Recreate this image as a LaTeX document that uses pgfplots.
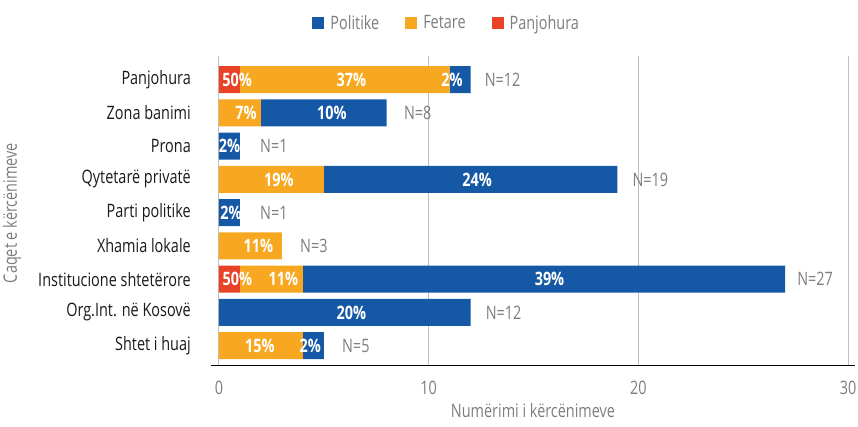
\documentclass[border=0pt]{standalone}
\usepackage{fontspec}
\setmainfont{Open Sans}[FakeStretch=0.78]
\usepackage{pgfplots}
\pgfplotsset{compat=1.18}
\usepackage{pgfplotstable}

\definecolor{pol}{RGB}{21,88,166}
\definecolor{fet}{RGB}{247,168,32}
\definecolor{panj}{RGB}{232,66,39}
\definecolor{txtgray}{RGB}{125,125,125}
\definecolor{gridgray}{RGB}{191,191,191}

\newcommand\chartfont{\fontsize{18.5}{22}\selectfont}

% y = category index (0 = Panjohura, top), val = count, lab = label, dx = nudge of the label
\pgfplotstableread{
y val lab dx
0 1 50\% 7.7
1 0 {} 0
2 0 {} 0
3 0 {} 0
4 0 {} 0
5 0 {} 0
6 1 50\% 8
7 0 {} 0
8 0 {} 0
}\panjohura

\pgfplotstableread{
y val lab dx
0 10 37\% 6.6
1 2 7\% 6
2 0 {} 0
3 5 19\% 7.6
4 0 {} 0
5 3 11\% 8
6 3 11\% 12
7 0 {} 0
8 4 15\% -1
}\fetare

\pgfplotstableread{
y val lab dx
0 1 2\% -8
1 6 10\% 8
2 1 2\% 0
3 14 24\% 6.5
4 1 2\% 1.5
5 0 {} 0
6 23 39\% 5.5
7 12 20\% 6.7
8 1 2\% -3
}\politike

% totals per category
\pgfplotstableread{
y tot lab dx
0 12 N=12 32
1 8 N=8 31
2 1 N=1 34
3 19 N=19 33
4 1 N=1 34
5 3 N=3 32
6 27 N=27 30
7 12 N=12 33
8 5 N=5 32
}\totals

\pgfplotsset{geom/.style={
  x=20.97pt, y=33.25pt,
  y dir=reverse,
  xmin=-0.38, xmax=30.33, ymin=-0.71, ymax=8.59,
}}

\begin{document}
\begin{tikzpicture}[font=\chartfont]
\begin{axis}[
  geom,
  xbar stacked,
  bar width=27pt,
  axis x line*=bottom, axis y line*=left,
  x axis line style={black, line width=1.3pt},
  y axis line style={draw=none},
  xtick={0,10,20,30}, xticklabels={0,10,20,30},
  ytick={0,...,8},
  yticklabels={Panjohura,Zona banimi,Prona,Qytetarë privatë,Parti politike,Xhamia lokale,Institucione shtetërore,Org.Int. në Kosovë,Shtet i huaj},
  major tick length=0pt,
  xmajorgrids, grid style={gridgray, line width=1pt},
  xticklabel style={txtgray, anchor=north, inner sep=0pt, yshift=-16pt},
  yticklabel style={black!90, anchor=east, inner sep=0pt, xshift=-20pt},
  xlabel={Numërimi i kërcënimeve},
  ylabel={Caqet e kërcënimeve},
  every axis x label/.style={at={(axis description cs:0.5,-0.146)}, anchor=center, txtgray},
  every axis y label/.style={at={(axis description cs:-0.309,0.492)}, anchor=center, rotate=90, txtgray},
  legend image code/.code={\fill[#1] (0pt,-6pt) rectangle (12pt,6pt);},
  legend style={draw=none, fill=none, legend columns=-1, text=txtgray,
    at={(axis description cs:0.366,1.107)}, anchor=center,
    /tikz/every odd column/.append style={column sep=4pt},
    /tikz/every even column/.append style={column sep=24pt}},
  reverse legend,
  nodes near coords,
  point meta=explicit symbolic,
  visualization depends on={\thisrow{dx} \as \segdx},
  every node near coord/.append style={anchor=center, white,
    font=\chartfont\bfseries, xshift={\segdx*1pt}},
]
\addplot[fill=panj, draw=none] table[x=val, y=y, meta=lab] {\panjohura};
\addplot[fill=fet, draw=none] table[x=val, y=y, meta=lab] {\fetare};
\addplot[fill=pol, draw=none] table[x=val, y=y, meta=lab] {\politike};
\legend{Panjohura,Fetare,Politike}
\coordinate (bl) at (axis description cs:-0.3276,-0.1974);
\coordinate (tr) at (axis description cs:1.00466,1.1812);
\end{axis}
% same geometry, only the N= labels at the bar totals
\begin{axis}[geom, hide axis, clip=false]
\addplot[draw=none, mark=none, nodes near coords, point meta=explicit symbolic,
  visualization depends on={\thisrow{dx} \as \segdx},
  every node near coord/.append style={anchor=center, txtgray, xshift={\segdx*1pt}}]
  table[x=tot, y=y, meta=lab] {\totals};
\end{axis}
\pgfresetboundingbox
\path[use as bounding box] (bl) rectangle (tr);
\end{tikzpicture}
\end{document}
